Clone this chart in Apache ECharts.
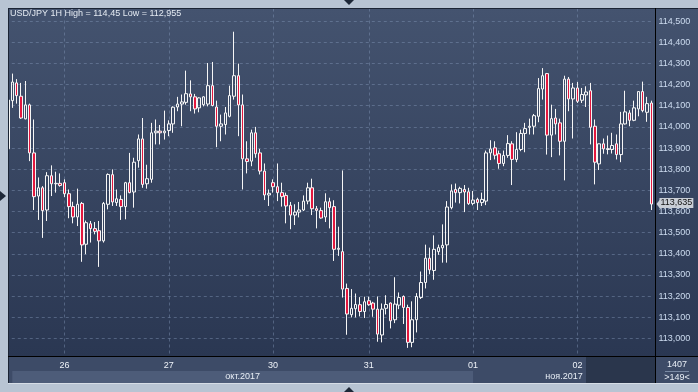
<!DOCTYPE html>
<html><head><meta charset="utf-8">
<script src="https://cdn.jsdelivr.net/npm/echarts@6/dist/echarts.min.js"></script>
<style>html,body{margin:0;padding:0;background:#b8c4d3;overflow:hidden}#c{width:698px;height:392px;}</style>
</head><body><div id="c"></div>
<script>
const titleText = 'USD/JPY 1H High = 114,45 Low = 112,955';
const dayStartIdx = [13, 37, 61, 83, 107, 131];
const dayLabels = ['26', '27', '30', '31', '01', '02'];
const dayNames = ['25.10', '26.10', '27.10', '30.10', '31.10', '01.11', '02.11'];
const monthLabels = ['окт.2017', 'ноя.2017'];
const monthStartIdx = [1, 107];
const barsTotal = '1407';
const barsVisible = '>149<';
const yMin = 112.9, yMax = 114.6, yStep = 0.1;

const openValues = [113.896,114.124,114.208,114.145,114.038,114.104,113.877,113.673,113.712,113.607,
113.769,113.731,113.733,113.736,113.684,113.623,113.574,113.638,113.445,113.542,
113.519,113.509,113.461,113.634,113.774,113.642,113.657,113.623,113.736,113.692,
113.840,113.943,113.731,113.752,113.972,113.980,113.972,113.983,114.014,114.094,
114.108,114.116,114.156,114.142,114.090,114.105,114.108,114.195,114.094,114.003,
114.011,114.050,114.145,114.242,114.104,113.849,113.838,113.972,113.877,113.791,
113.678,113.736,113.717,113.689,113.676,113.629,113.583,113.597,113.607,113.649,
113.712,113.613,113.604,113.574,113.646,113.623,113.421,113.410,113.236,113.112,
113.140,113.159,113.127,113.178,113.167,113.138,113.016,113.142,113.167,113.088,
113.157,113.198,113.146,112.981,113.088,113.193,113.264,113.379,113.321,113.410,
113.428,113.442,113.618,113.704,113.689,113.704,113.693,113.638,113.657,113.642,
113.649,113.877,113.901,113.873,113.827,113.865,113.920,113.846,113.893,113.969,
113.998,114.003,114.050,114.179,114.252,113.961,114.042,114.019,113.932,114.226,
114.132,114.184,114.126,114.151,114.171,114.003,113.825,113.920,113.893,113.893,
113.920,113.869,114.014,114.066,114.031,114.085,114.167,114.069,114.113];
const closeValues = [114.127,114.212,114.148,114.042,114.104,113.877,113.670,113.712,113.604,113.769,
113.731,113.733,113.723,113.684,113.623,113.574,113.634,113.442,113.547,113.519,
113.506,113.461,113.638,113.775,113.645,113.660,113.623,113.736,113.689,113.833,
113.943,113.728,113.755,113.972,113.980,113.972,113.980,114.014,114.093,114.108,
114.118,114.157,114.142,114.085,114.137,114.142,114.195,114.101,114.003,114.014,
114.066,114.148,114.242,114.104,113.849,113.836,113.972,113.873,113.791,113.678,
113.686,113.717,113.689,113.670,113.626,113.583,113.597,113.607,113.649,113.712,
113.613,113.605,113.569,113.646,113.618,113.421,113.426,113.233,113.115,113.142,
113.160,113.127,113.173,113.159,113.138,113.020,113.138,113.160,113.083,113.162,
113.193,113.146,112.981,113.088,113.198,113.264,113.379,113.324,113.421,113.429,
113.440,113.621,113.697,113.689,113.709,113.692,113.637,113.654,113.642,113.657,
113.877,113.896,113.866,113.827,113.865,113.921,113.846,113.893,113.969,113.992,
114.003,114.053,114.181,114.242,113.961,114.039,114.014,113.932,114.226,114.132,
114.184,114.121,114.153,114.165,113.998,113.833,113.920,113.896,113.897,113.912,
113.869,114.014,114.071,114.031,114.090,114.167,114.077,114.110,113.635];
const lowValues = [113.880,114.090,114.110,114.038,114.036,113.838,113.607,113.560,113.475,113.555,
113.673,113.689,113.717,113.668,113.568,113.544,113.531,113.362,113.398,113.453,
113.492,113.338,113.453,113.610,113.626,113.626,113.560,113.563,113.686,113.618,
113.807,113.712,113.708,113.736,113.917,113.917,113.940,113.956,113.972,114.074,
114.003,114.105,114.074,114.063,114.069,114.097,114.097,114.097,113.904,113.932,
113.964,114.045,114.129,113.956,113.704,113.780,113.814,113.854,113.775,113.654,
113.626,113.689,113.649,113.623,113.544,113.516,113.536,113.572,113.602,113.634,
113.583,113.520,113.566,113.550,113.520,113.366,113.390,113.193,113.017,113.099,
113.099,113.104,113.096,113.154,113.102,112.984,112.981,113.113,113.047,113.072,
113.138,113.068,112.955,112.958,113.028,113.186,113.236,113.303,113.277,113.395,
113.358,113.358,113.610,113.642,113.638,113.597,113.631,113.629,113.607,113.626,
113.630,113.843,113.846,113.802,113.814,113.854,113.725,113.833,113.885,113.880,
113.964,113.964,114.022,114.129,113.869,113.857,113.964,113.865,113.747,114.074,
113.945,114.113,114.113,114.094,113.917,113.728,113.796,113.873,113.870,113.874,
113.846,113.833,114.011,114.003,114.027,114.050,114.069,114.024,113.607];
const highValues = [114.140,114.252,114.226,114.208,114.217,114.110,114.035,113.761,113.720,113.786,
113.818,113.788,113.780,113.752,113.704,113.646,113.708,113.645,113.557,113.555,
113.550,113.555,113.645,113.780,113.799,113.704,113.676,113.740,113.877,113.854,
113.964,114.042,113.821,114.019,114.035,114.009,114.077,114.031,114.097,114.142,
114.153,114.266,114.220,114.156,114.140,114.145,114.302,114.307,114.124,114.058,
114.094,114.195,114.450,114.299,114.153,113.932,113.987,114.000,113.896,113.827,
113.704,113.752,113.827,113.736,113.689,113.645,113.634,113.645,113.676,113.736,
113.755,113.626,113.618,113.686,113.665,113.653,113.528,113.794,113.259,113.233,
113.212,113.195,113.197,113.197,113.173,113.198,113.165,113.204,113.170,113.289,
113.217,113.203,113.159,113.175,113.214,113.316,113.443,113.429,113.487,113.443,
113.539,113.649,113.728,113.732,113.717,113.725,113.712,113.697,113.665,113.689,
113.888,113.937,113.932,113.888,113.888,113.961,113.932,113.975,113.987,114.019,
114.039,114.061,114.231,114.278,114.255,114.105,114.085,114.039,114.242,114.236,
114.208,114.212,114.184,114.192,114.208,114.035,113.921,113.945,113.959,113.972,
113.964,114.071,114.171,114.079,114.124,114.168,114.214,114.142,114.124];

const categories = [];
for (let i = 0; i < openValues.length; i++) {
  let d = 0;
  for (let k = 0; k < dayStartIdx.length; k++) if (i >= dayStartIdx[k]) d = k + 1;
  const start = d === 0 ? dayStartIdx[0] - 24 : dayStartIdx[d - 1];
  categories.push(dayNames[d] + ' ' + String(i - start).padStart(2, '0') + ':00');
}
const ohlc = openValues.map((o, i) => [o, closeValues[i], lowValues[i], highValues[i]]);
const lastClose = closeValues[closeValues.length - 1];
const fmt = v => v.toFixed(3).replace('.', ',');

const FONT = 'Liberation Sans, Arial, sans-serif';
const gridColor = 'rgba(130,150,185,0.45)';
const frameColor = '#b8c4d3';

const chart = echarts.init(document.getElementById('c'), null, {renderer: 'canvas'});
const PLOT_L = 5.78, STEP = 4.347, N = openValues.length;

chart.setOption({
  animation: false,
  title: {text: titleText, left: 10, top: 9.5, padding: 0,
    textStyle: {fontSize: 9, fontWeight: 'normal', color: '#e4eaf2', fontFamily: FONT}},
  grid: {left: PLOT_L, top: -0.5, width: N * STEP, height: 360, containLabel: false},
  xAxis: {type: 'category', data: categories, boundaryGap: true, z: 200,
    axisLine: {show: false}, axisTick: {show: false}, splitLine: {show: false},
    axisLabel: {margin: 2, color: '#eef2f8', fontSize: 9, fontFamily: FONT,
      interval: (idx) => dayStartIdx.indexOf(idx) >= 0,
      formatter: (v, idx) => { const k = dayStartIdx.indexOf(idx); return k >= 0 ? dayLabels[k] : ''; }}},
  yAxis: {type: 'value', position: 'right', min: yMin, max: yMax, interval: yStep, scale: true,
    axisLine: {show: false}, axisTick: {show: false},
    splitLine: {show: true, lineStyle: {color: gridColor, type: [3, 3], width: 1}},
    axisLabel: {margin: 5, color: '#cddcf0', fontSize: 9, fontFamily: FONT,
      formatter: v => (v < yMin + yStep / 2 || v > yMax - yStep / 2) ? '' : fmt(v)}},
  series: [{
    type: 'candlestick', data: ohlc, barWidth: 3,
    itemStyle: {color: 'rgba(0,0,0,0)', color0: '#e3173e', borderColor: '#f6f6f6', borderColor0: '#f6f6f6',
      borderColorDoji: '#f6f6f6', borderWidth: 1},
    markLine: {silent: true, z: 1, symbol: ['none', 'none'], animation: false,
      label: {show: false},
      lineStyle: {color: gridColor, type: [3, 3], width: 1},
      data: dayStartIdx.map(i => ({xAxis: categories[i]}))}
  }, {
    type: 'line', data: [], silent: true,
    markLine: {silent: true, z: 5, symbol: ['none', 'none'], animation: false,
      lineStyle: {color: 'rgba(0,0,0,0)', width: 0},
      label: {show: true, position: 'end', distance: 6, formatter: () => fmt(lastClose),
        backgroundColor: '#c9ced6', color: '#111', fontSize: 9, fontFamily: FONT, padding: [1, 1, 0, 1], opacity: 1},
      data: [{yAxis: lastClose}]}
  }]
});

const px = i => chart.convertToPixel({xAxisIndex: 0}, categories[i]);
const py = chart.convertToPixel({yAxisIndex: 0}, lastClose);
const octX0 = px(monthStartIdx[0]), octX1 = px(monthStartIdx[1]);
const novX1 = 655;
const txt = (id, x, y, s, color, align) => ({id, type: 'text', x, y, z: 210,
  style: {text: s, fill: color, font: '9px ' + FONT, textAlign: align || 'center', textVerticalAlign: 'middle'}});

chart.setOption({graphic: [
  {id: 'bg', type: 'rect', z: -90, shape: {x: 8, y: 8, width: 690, height: 349},
    style: {fill: {type: 'linear', x: 0, y: 0, x2: 0, y2: 1,
      colorStops: [{offset: 0, color: '#44536f'}, {offset: 1, color: '#2a3752'}]}}},
  {id: 'row1', type: 'rect', z: 100, shape: {x: 8, y: 357, width: 690, height: 26}, style: {fill: '#3d4b67'}},
  {id: 'octStrip', type: 'rect', z: 101, shape: {x: octX0, y: 371, width: octX1 - octX0, height: 12}, style: {fill: '#4d5c79'}},
  {id: 'darkBlock', type: 'rect', z: 101, shape: {x: 586, y: 357, width: 69, height: 26}, style: {fill: '#2a364c'}},
  {id: 'fTop', type: 'rect', z: 100, shape: {x: 0, y: 0, width: 698, height: 8}, style: {fill: frameColor}},
  {id: 'fLeft', type: 'rect', z: 100, shape: {x: 0, y: 0, width: 8, height: 392}, style: {fill: frameColor}},
  {id: 'fBot', type: 'rect', z: 100, shape: {x: 0, y: 383, width: 698, height: 9}, style: {fill: frameColor}},
  {id: 'fBotLine', type: 'line', z: 102, shape: {x1: 8, y1: 383.5, x2: 698, y2: 383.5}, style: {stroke: '#d6dde6', lineWidth: 1}},
  {id: 'bTop', type: 'line', z: 110, shape: {x1: 8, y1: 8.5, x2: 698, y2: 8.5}, style: {stroke: '#1b2434', lineWidth: 1}},
  {id: 'bLeft', type: 'line', z: 110, shape: {x1: 8.5, y1: 8, x2: 8.5, y2: 383}, style: {stroke: '#1b2434', lineWidth: 1}},
  {id: 'hLine', type: 'line', z: 150, shape: {x1: 8, y1: 356.5, x2: 698, y2: 356.5}, style: {stroke: '#000', lineWidth: 1}},
  {id: 'vLine', type: 'line', z: 150, shape: {x1: 655.5, y1: 8, x2: 655.5, y2: 383}, style: {stroke: '#000', lineWidth: 1}},
  {id: 'sep', type: 'line', z: 150, shape: {x1: 665, y1: 371.5, x2: 689, y2: 371.5}, style: {stroke: '#7a8aa4', lineWidth: 1}},
  {id: 'triTop', type: 'polygon', z: 120, shape: {points: [[344, 0], [354, 0], [349, 5]]}, style: {fill: '#1d2737'}},
  {id: 'triBot', type: 'polygon', z: 120, shape: {points: [[344, 392], [354, 392], [349, 387]]}, style: {fill: '#1d2737'}},
  {id: 'triLeft', type: 'polygon', z: 120, shape: {points: [[0, 191], [0, 201], [6, 196]]}, style: {fill: '#1d2737'}},
  {id: 'tagArrow', type: 'polygon', z: 120, shape: {points: [[656.5, py], [660, py - 4.5], [660, py + 4.5]]}, style: {fill: '#c9ced6'}},
  txt('mOct', (octX0 + octX1) / 2, 376.5, monthLabels[0], '#e8eef6'),
  txt('mNov', (octX1 + novX1) / 2, 376.5, monthLabels[1], '#e8eef6'),
  txt('bTotal', 677, 365, barsTotal, '#e8eef6'),
  txt('bVis', 677, 377.5, barsVisible, '#e8eef6')
]});
</script></body></html>
